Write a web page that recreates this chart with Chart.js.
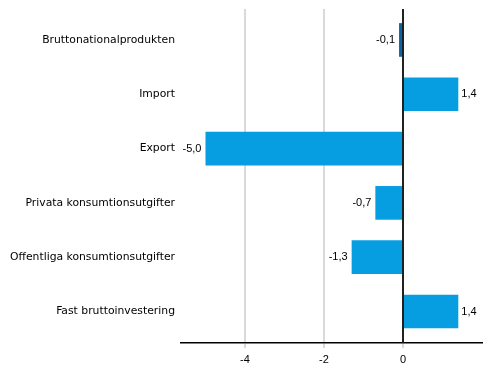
<!DOCTYPE html>
<html>
<head>
<meta charset="utf-8">
<script src="https://cdn.jsdelivr.net/npm/chart.js@4/dist/chart.umd.min.js"></script>
<style>
html,body{margin:0;padding:0;background:#fff;}
#wrap{width:491px;height:378px;position:relative;}
</style>
</head>
<body>
<div id="wrap"><canvas id="c"></canvas></div>
<script>
const categories = ["Bruttonationalprodukten","Import","Export","Privata konsumtionsutgifter","Offentliga konsumtionsutgifter","Fast bruttoinvestering"];
const values = [-0.1, 1.4, -5.0, -0.7, -1.3, 1.4];
const xTicks = [-4, -2, 0];
const barColors = ["#0a64a4","#069ee0","#069ee0","#069ee0","#069ee0","#069ee0"];

const points = values.map((v, i) => ({x: v, y: i}));

const labelPlugin = {
  id: 'valueLabels',
  afterDatasetsDraw(chart) {
    const ctx = chart.ctx;
    const xs = chart.scales.x;
    const x0 = Math.round(xs.getPixelForValue(0));
    ctx.save();
    ctx.strokeStyle = '#222';
    ctx.lineWidth = 1.5;
    ctx.beginPath();
    ctx.moveTo(x0, chart.chartArea.top);
    ctx.lineTo(x0, chart.chartArea.bottom);
    ctx.stroke();
    const meta = chart.getDatasetMeta(0);
    ctx.font = '11px "Liberation Sans", Arial, sans-serif';
    ctx.fillStyle = '#000';
    ctx.textBaseline = 'middle';
    meta.data.forEach((el, i) => {
      const v = values[i];
      const txt = v.toFixed(1).replace('.', ',');
      if (v >= 0) { ctx.textAlign = 'left'; ctx.fillText(txt, el.x + 3, el.y); }
      else { ctx.textAlign = 'right'; ctx.fillText(txt, el.x - 4, el.y); }
    });
    ctx.restore();
  }
};

new Chart(document.getElementById('c'), {
  type: 'bar',
  data: {
    datasets: [{
      data: points,
      backgroundColor: barColors,
      borderWidth: 0,
      categoryPercentage: 1,
      barPercentage: 0.62
    }]
  },
  options: {
    indexAxis: 'y',
    responsive: true,
    maintainAspectRatio: false,
    animation: false,
    devicePixelRatio: 1,
    layout: { padding: { top: 9, right: 9, left: 0, bottom: 0 } },
    plugins: { legend: { display: false }, tooltip: { enabled: false } },
    scales: {
      x: {
        type: 'linear',
        min: -5.62,
        max: 2,
        afterBuildTicks: (s) => { s.ticks = xTicks.map(v => ({value: v})); },
        afterFit: (s) => { s.height = 35; s.paddingLeft = 0; s.paddingRight = 0; },
        grid: {
          color: (c) => c.tick && c.tick.value === 0 ? '#222' : '#d9d9d9',
          lineWidth: 2,
          tickLength: 5,
          tickColor: '#d9d9d9',
          drawOnChartArea: true
        },
        border: { display: true, color: '#000', width: 1.5 },
        ticks: {
          padding: 5,
          color: '#000',
          font: { family: '"Liberation Sans", Arial, sans-serif', size: 11 }
        }
      },
      y: {
        type: 'linear',
        reverse: true,
        offset: false,
        min: -0.57,
        max: 5.58,
        afterBuildTicks: (s) => { s.ticks = categories.map((c, i) => ({value: i})); },
        afterFit: (s) => { s.width = 181; s.paddingTop = 0; s.paddingBottom = 0; },
        grid: { display: false, drawTicks: false, offset: false },
        border: { display: false },
        ticks: {
          padding: 6,
          color: '#000',
          font: { family: '"DejaVu Sans", sans-serif', size: 10.8 },
          callback: (v) => categories[v] || ''
        }
      }
    }
  },
  plugins: [labelPlugin]
});
</script>
</body>
</html>
